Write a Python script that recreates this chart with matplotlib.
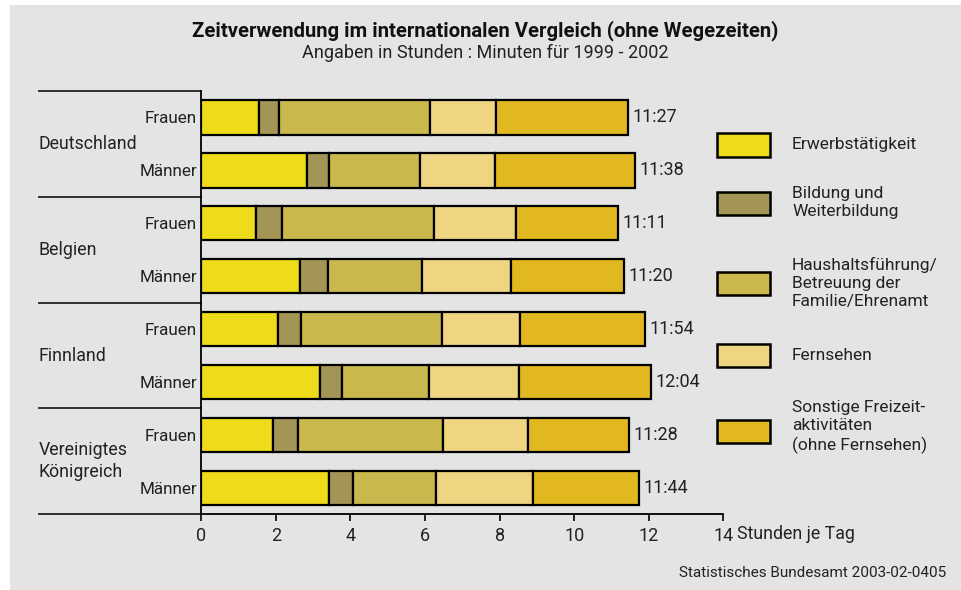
import numpy as np
import matplotlib.pyplot as plt
from matplotlib.patches import Rectangle
from matplotlib.lines import Line2D
import matplotlib.transforms as mtransforms

plt.rcParams['font.family'] = ['Roboto', 'DejaVu Sans']

countries = ["Deutschland", "Belgien", "Finnland", "Vereinigtes\nKönigreich"]
sexes = ["Frauen", "Männer"] * 4
categories = ["Erwerbstätigkeit", "Bildung und\nWeiterbildung",
              "Haushaltsführung/\nBetreuung der\nFamilie/Ehrenamt",
              "Fernsehen", "Sonstige Freizeit-\naktivitäten\n(ohne Fernsehen)"]
colors = ["#eedc1a", "#a39556", "#cbb84c", "#efd582", "#e2b820"]

# hours per day, rows: DE F, DE M, BE F, BE M, FI F, FI M, UK F, UK M
erwerb    = [1.55, 2.83, 1.47, 2.64, 2.07, 3.18, 1.92, 3.42]
bildung   = [0.54, 0.59, 0.69, 0.75, 0.60, 0.59, 0.68, 0.66]
haushalt  = [4.05, 2.44, 4.09, 2.54, 3.78, 2.33, 3.89, 2.21]
fernsehen = [1.76, 2.03, 2.20, 2.38, 2.10, 2.42, 2.26, 2.61]
sonstige  = [3.55, 3.74, 2.73, 3.02, 3.35, 3.55, 2.72, 2.83]
totals = ["11:27", "11:38", "11:11", "11:20", "11:54", "12:04", "11:28", "11:44"]

W, H = 961, 590
txt = "#222222"
fig = plt.figure(figsize=(W / 100, H / 100), dpi=100)
fig.patches.append(Rectangle((10 / W, 0), 1, 1 - 5 / H, transform=fig.transFigure,
                             facecolor="#e4e4e4", edgecolor="none", zorder=-10))

ax = fig.add_axes([201.3 / W, 1 - 514.3 / H, 522 / W, (514.3 - 91) / H])
ax.set_facecolor("none")

series = [erwerb, bildung, haushalt, fernsehen, sonstige]
y = np.arange(len(sexes))
left = np.zeros(len(sexes))
for vals, col in zip(series, colors):
    ax.barh(y, vals, left=left, height=0.65, color=col, edgecolor="black", linewidth=1.6)
    left += np.array(vals)

for yi, tot, lab in zip(y, left, totals):
    ax.annotate(lab, (tot, yi), xytext=(3.3, 0), textcoords="offset points",
                ha="left", va="center", fontsize=13, color=txt)

ax.set_xlim(0, 14)
ax.set_ylim(7.5, -0.5)
ax.set_xticks(range(0, 15, 2))
ax.set_yticks(y)
ax.set_yticklabels(sexes)
ax.tick_params(axis="y", length=0, pad=3, labelsize=12.3, labelcolor=txt)
ax.tick_params(axis="x", length=5, width=1.2, pad=4, labelsize=13, labelcolor=txt)
for s in ["top", "right"]:
    ax.spines[s].set_visible(False)
for s in ["left", "bottom"]:
    ax.spines[s].set_linewidth(1.3)

ax.annotate("Stunden je Tag", (14, 7.5), xytext=(10, -14), textcoords="offset points",
            ha="left", va="center", fontsize=12.8, color=txt, annotation_clip=False)

trans = mtransforms.blended_transform_factory(ax.transAxes, ax.transData)
xl = (39 - 201.3) / 522
for yy in [-0.5, 1.5, 3.5, 5.5, 7.5]:
    ax.add_line(Line2D([xl, 0], [yy, yy], transform=trans, color=txt,
                       linewidth=1.3, clip_on=False))
for i, c in enumerate(countries):
    ax.text(xl, 2 * i + 0.5, c, transform=trans, ha="left", va="center",
            fontsize=12.8, color=txt, linespacing=1.3)

# legend
legend_y = [145, 203.3, 283.3, 355, 431.7]
text_y = [145, 202.7, 283.3, 355, 427]
for yc, ty, lab, col in zip(legend_y, text_y, categories, colors):
    fig.patches.append(Rectangle((717 / W, 1 - (yc + 11.5) / H), 53 / W, 23 / H,
                                 transform=fig.transFigure, facecolor=col,
                                 edgecolor="black", linewidth=1.8))
    fig.text(792 / W, 1 - ty / H, lab, ha="left", va="center", fontsize=12.5,
             color=txt, linespacing=1.25)

fig.text(485 / W, 1 - 31 / H, "Zeitverwendung im internationalen Vergleich (ohne Wegezeiten)",
         ha="center", va="center", fontsize=14.6, fontweight="bold", color="#111111")
fig.text(485 / W, 1 - 53 / H, "Angaben in Stunden : Minuten für 1999 - 2002",
         ha="center", va="center", fontsize=13, color=txt)
fig.text(946 / W, 1 - 573 / H, "Statistisches Bundesamt 2003-02-0405",
         ha="right", va="center", fontsize=11, color=txt)

fig.savefig("out.png", dpi=100)
